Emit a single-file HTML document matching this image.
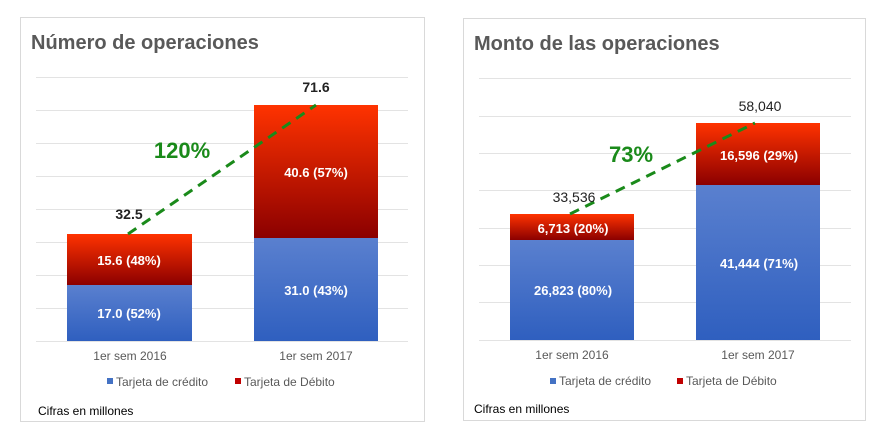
<!DOCTYPE html>
<html><head><meta charset="utf-8"><style>
body{margin:0;background:#fff;width:889px;height:433px;overflow:hidden}
svg{font-family:"Liberation Sans",Arial,sans-serif}
</style></head><body>
<svg width="889" height="433" viewBox="0 0 889 433">
<defs>
<linearGradient id="r" x1="0" y1="0" x2="0" y2="1"><stop offset="0" stop-color="#ff3300"/><stop offset="1" stop-color="#8b0000"/></linearGradient>
<linearGradient id="b" x1="0" y1="0" x2="0" y2="1"><stop offset="0" stop-color="#5a80cf"/><stop offset="1" stop-color="#2f5fbf"/></linearGradient>
</defs>
<!-- Left panel -->
<rect x="20.5" y="17.5" width="404" height="404" fill="#fff" stroke="#d9d9d9"/>
<text x="31" y="49" font-size="20" font-weight="bold" fill="#595959">Número de operaciones</text>
<g stroke="#e3e3e3" stroke-width="1">
<line x1="36" x2="408" y1="77.5" y2="77.5"/><line x1="36" x2="408" y1="110.5" y2="110.5"/><line x1="36" x2="408" y1="143.5" y2="143.5"/><line x1="36" x2="408" y1="176.5" y2="176.5"/><line x1="36" x2="408" y1="209.5" y2="209.5"/><line x1="36" x2="408" y1="242.5" y2="242.5"/><line x1="36" x2="408" y1="275.5" y2="275.5"/><line x1="36" x2="408" y1="308.5" y2="308.5"/><line x1="36" x2="408" y1="341.5" y2="341.5"/>
</g>
<rect x="67" y="234" width="125" height="51" fill="url(#r)"/>
<rect x="67" y="285" width="125" height="56" fill="url(#b)"/>
<rect x="254" y="105" width="124" height="133" fill="url(#r)"/>
<rect x="254" y="238" width="124" height="103" fill="url(#b)"/>
<g font-size="13" font-weight="bold" fill="#fff" text-anchor="middle">
<text x="129" y="265">15.6 (48%)</text><text x="129" y="318">17.0 (52%)</text>
<text x="316" y="177">40.6 (57%)</text><text x="316" y="295">31.0 (43%)</text>
</g>
<line x1="128" y1="234" x2="316" y2="105" stroke="#1a8a1a" stroke-width="3" stroke-dasharray="10,7"/>
<g font-size="14" font-weight="bold" fill="#222" text-anchor="middle"><text x="129" y="219">32.5</text><text x="316" y="92">71.6</text></g>
<text x="182" y="158" font-size="22" font-weight="bold" fill="#1a8a1a" text-anchor="middle">120%</text>
<g font-size="12" fill="#595959" text-anchor="middle"><text x="130" y="360">1er sem 2016</text><text x="316" y="360">1er sem 2017</text></g>
<rect x="107" y="378" width="6" height="6" fill="#4472c4"/><text x="116" y="386" font-size="12" fill="#595959">Tarjeta de crédito</text>
<rect x="235" y="378" width="6" height="6" fill="#c00000"/><text x="244" y="386" font-size="12" fill="#595959">Tarjeta de Débito</text>
<text x="38" y="415" font-size="12" fill="#000">Cifras en millones</text>
<!-- Right panel -->
<rect x="463.5" y="18.5" width="402" height="402" fill="#fff" stroke="#d9d9d9"/>
<text x="474" y="50" font-size="20" font-weight="bold" fill="#595959">Monto de las operaciones</text>
<g stroke="#e3e3e3" stroke-width="1">
<line x1="479" x2="851" y1="78.5" y2="78.5"/><line x1="479" x2="851" y1="116.5" y2="116.5"/><line x1="479" x2="851" y1="153.5" y2="153.5"/><line x1="479" x2="851" y1="190.5" y2="190.5"/><line x1="479" x2="851" y1="228.5" y2="228.5"/><line x1="479" x2="851" y1="265.5" y2="265.5"/><line x1="479" x2="851" y1="302.5" y2="302.5"/><line x1="479" x2="851" y1="340.5" y2="340.5"/>
</g>
<rect x="510" y="214" width="124" height="26" fill="url(#r)"/>
<rect x="510" y="240" width="124" height="100" fill="url(#b)"/>
<rect x="696" y="123" width="124" height="62" fill="url(#r)"/>
<rect x="696" y="185" width="124" height="155" fill="url(#b)"/>
<g font-size="13" font-weight="bold" fill="#fff" text-anchor="middle">
<text x="573" y="233">6,713 (20%)</text><text x="573" y="295">26,823  (80%)</text>
<text x="759" y="160">16,596  (29%)</text><text x="759" y="268">41,444  (71%)</text>
</g>
<line x1="570" y1="214" x2="755" y2="123" stroke="#1a8a1a" stroke-width="3" stroke-dasharray="10,7"/>
<g font-size="14" fill="#222" text-anchor="middle"><text x="574" y="202">33,536</text><text x="760" y="111">58,040</text></g>
<text x="631" y="162" font-size="22" font-weight="bold" fill="#1a8a1a" text-anchor="middle">73%</text>
<g font-size="12" fill="#595959" text-anchor="middle"><text x="572" y="359">1er sem 2016</text><text x="758" y="359">1er sem 2017</text></g>
<rect x="550" y="378" width="6" height="6" fill="#4472c4"/><text x="559" y="385" font-size="12" fill="#595959">Tarjeta de crédito</text>
<rect x="677" y="378" width="6" height="6" fill="#c00000"/><text x="686" y="385" font-size="12" fill="#595959">Tarjeta de Débito</text>
<text x="474" y="413" font-size="12" fill="#000">Cifras en millones</text>
</svg>
</body></html>
